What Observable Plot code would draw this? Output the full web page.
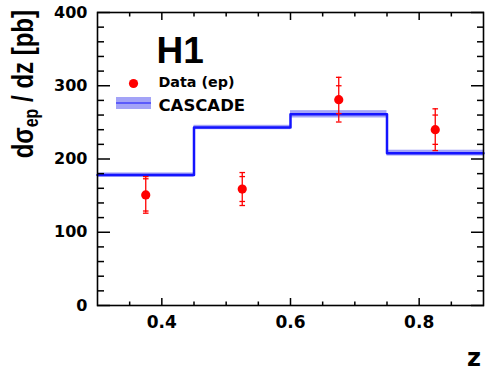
<!DOCTYPE html>
<html><head><meta charset="utf-8">
<script src="https://cdn.jsdelivr.net/npm/d3@7"></script>
<script src="https://cdn.jsdelivr.net/npm/@observablehq/plot@0.6"></script>
<style>
body{margin:0;background:#fff}
#chart{width:498px;height:378px}
</style>
</head><body><div id="chart"></div>
<script>
// CASCADE histogram (bin edges, central values, band low/high)
const binLo = [0.30, 0.45, 0.60, 0.75];
const binHi = [0.45, 0.60, 0.75, 0.90];
const mcValue = [178, 243, 261, 208];
const mcLow = [175, 240, 256, 204];
const mcHigh = [181, 246, 266, 212];

// H1 data points
const dataZ = [0.375, 0.525, 0.675, 0.825];
const dataY = [151, 159, 281, 240];
const statErr = [22, 17, 19, 20];
const totErr = [25, 22.5, 30.5, 28.5];

// ticks
const yMajor = [0, 100, 200, 300, 400];
const yMinor = [20, 40, 60, 80, 120, 140, 160, 180, 220, 240, 260, 280, 320, 340, 360, 380];
const xMajor = [0.4, 0.6, 0.8];
const xMinor = [0.35, 0.45, 0.5, 0.55, 0.65, 0.7, 0.75, 0.85];
const xLabels = [0.4, 0.6, 0.8];

const bins = binLo.map((lo, i) => ({lo, hi: binHi[i], v: mcValue[i], l: mcLow[i], h: mcHigh[i]}));
const steps = bins.map(b => ({x: b.lo, y: b.v})).concat([{x: binHi[binHi.length - 1], y: mcValue[mcValue.length - 1]}]);
const pts = dataZ.map((z, i) => ({z, y: dataY[i], s: statErr[i], t: totErr[i]}));
const caps = pts.flatMap(p => [
  {z: p.z, y: p.y + p.t}, {z: p.z, y: p.y - p.t},
  {z: p.z, y: p.y + p.s}, {z: p.z, y: p.y - p.s}
]);

const dash = {draw(ctx, size) { const r = Math.sqrt(size / Math.PI); ctx.moveTo(-r, 0); ctx.lineTo(r, 0); }};
const blank = () => "";
const tickStyle = {stroke: "black", strokeWidth: 1.5};

const chart = Plot.plot({
  width: 498, height: 378,
  marginLeft: 97, marginRight: 15, marginTop: 12, marginBottom: 73,
  x: {domain: [0.3, 0.9], label: null},
  y: {domain: [0, 400], label: null},
  style: {fontFamily: "'DejaVu Sans', sans-serif", fontWeight: "bold", fontSize: "16px", background: "white", color: "black", overflow: "visible"},
  marks: [
    Plot.rect(bins, {x1: "lo", x2: "hi", y1: "l", y2: "h", fill: "#a3a3f7"}),
    Plot.line(steps, {x: "x", y: "y", curve: "step-after", stroke: "#1414ff", strokeWidth: 2.5}),
    Plot.ruleX(pts, {x: "z", y1: d => d.y - d.t, y2: d => d.y + d.t, stroke: "#ff0000", strokeWidth: 1.3}),
    Plot.dot(caps, {x: "z", y: "y", symbol: dash, r: 2.8, stroke: "#ff0000", strokeWidth: 1.3, fill: "none"}),
    Plot.dot(pts, {x: "z", y: "y", r: 4.6, fill: "#ff0000"}),
    // axes: ticks inward
    Plot.axisY(yMajor, {anchor: "left", tickSize: -13, tickFormat: blank, ...tickStyle}),
    Plot.axisY(yMinor, {anchor: "left", tickSize: -7, tickFormat: blank, ...tickStyle}),
    Plot.axisY(yMajor, {anchor: "right", tickSize: -13, tickFormat: blank, ...tickStyle}),
    Plot.axisY(yMinor, {anchor: "right", tickSize: -7, tickFormat: blank, ...tickStyle}),
    Plot.axisX(xMajor, {anchor: "bottom", tickSize: -7, tickFormat: blank, ...tickStyle}),
    Plot.axisX(xMinor, {anchor: "bottom", tickSize: -3.5, tickFormat: blank, ...tickStyle}),
    Plot.axisX(xMajor, {anchor: "top", tickSize: -7, tickFormat: blank, ...tickStyle}),
    Plot.axisX(xMinor, {anchor: "top", tickSize: -3.5, tickFormat: blank, ...tickStyle}),
    Plot.axisY(yMajor, {anchor: "left", tickSize: 0, tickPadding: 10, fontSize: 16, fill: "black"}),
    Plot.axisX(xLabels, {anchor: "bottom", tickSize: 0, tickPadding: 10, fontSize: 17, fill: "black", tickFormat: d3.format(".1f")}),
    Plot.frame({stroke: "black", strokeWidth: 1.6}),
    // title and legend
    Plot.text(["H1"], {frameAnchor: "top-left", dx: 59, dy: 50, text: d => d, textAnchor: "start", lineAnchor: "bottom", fontFamily: "'Liberation Sans', Arial, sans-serif", fontSize: 37, fontWeight: "bold", fill: "black"}),
    Plot.dot([0], {frameAnchor: "top-left", dx: 36, dy: 71, r: 4.6, fill: "#ff0000"}),
    Plot.text(["Data (ep)"], {frameAnchor: "top-left", dx: 61, dy: 74, text: d => d, textAnchor: "start", lineAnchor: "bottom", fontSize: 14.3, fill: "black"}),
    Plot.text(["CASCADE"], {frameAnchor: "top-left", dx: 61, dy: 98, text: d => d, textAnchor: "start", lineAnchor: "bottom", fontSize: 16.5, fill: "black"})
  ]
});

const svg = d3.select(chart);
// legend swatch for CASCADE (band + line)
const sw = svg.append("g");
sw.append("rect").attr("x", 116).attr("y", 97).attr("width", 35).attr("height", 12).attr("fill", "#a3a3f7");
sw.append("line").attr("x1", 116).attr("x2", 151).attr("y1", 103).attr("y2", 103).attr("stroke", "#1414ff").attr("stroke-width", 1.2);

// x axis label
svg.append("text").attr("x", 481).attr("y", 366).attr("text-anchor", "end")
  .attr("font-family", "'DejaVu Sans', sans-serif").attr("font-weight", "bold").attr("font-size", 24).attr("fill", "black").text("z");

// y axis label with subscript
const yl = svg.append("text")
  .attr("transform", "translate(33,10) rotate(-90) scale(1,1.23)")
  .attr("text-anchor", "end")
  .attr("font-family", "'Liberation Sans', Arial, sans-serif").attr("font-weight", "bold").attr("font-size", 24).attr("fill", "black");
yl.append("tspan").text("dσ");
yl.append("tspan").attr("font-size", 16).attr("dy", 4).text("ep");
yl.append("tspan").attr("dy", -4).text(" / dz [pb]");

document.getElementById("chart").appendChild(chart);
</script>
</body></html>
